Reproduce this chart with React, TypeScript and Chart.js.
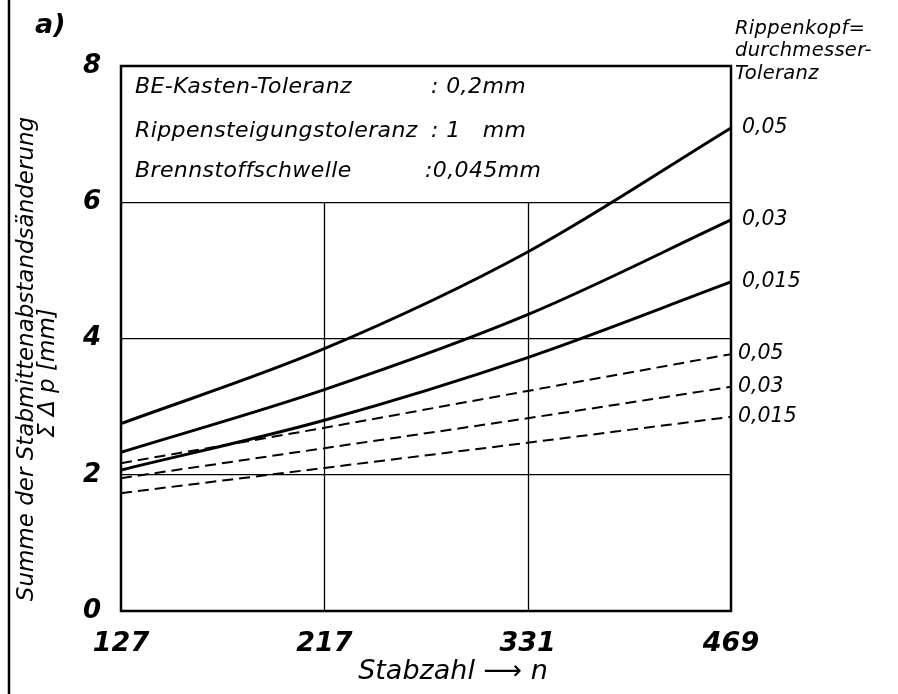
import React, { useEffect, useRef } from "react";
import { Chart, registerables } from "chart.js";

Chart.register(...registerables);

// ---- data ----
const categories = ["127", "217", "331", "469"];
const yTicks = [0, 2, 4, 6, 8];

const solid005 = [2.75, 3.85, 5.27, 7.09];
const solid003 = [2.33, 3.25, 4.35, 5.74];
const solid0015 = [2.07, 2.8, 3.72, 4.83];
const dashed005 = [2.17, 2.69, 3.23, 3.77];
const dashed003 = [1.95, 2.39, 2.83, 3.29];
const dashed0015 = [1.73, 2.1, 2.47, 2.85];

const seriesLabels = ["0,05", "0,03", "0,015", "0,05", "0,03", "0,015"];
const seriesDashed = [false, false, false, true, true, true];
const seriesValues = [solid005, solid003, solid0015, dashed005, dashed003, dashed0015];

const boxLabels = ["BE-Kasten-Toleranz", "Rippensteigungstoleranz", "Brennstoffschwelle"];
const boxValues = [": 0,2mm", ": 1   mm", ":0,045mm"];
const headerLines = ["Rippenkopf=", "durchmesser-", "Toleranz"];
const yTitleLines = ["Summe der Stabmittenabstandsänderung", "Σ Δ p [mm]"];
const xTitle = "Stabzahl \u27F6 n";
const panelLabel = "a)";
const boxFromValue = 6;

const FONT = "'DejaVu Sans', 'Noto Sans', sans-serif";

const annotPlugin = {
  id: "annot",
  beforeDatasetsDraw(chart: any) {
    const { ctx, chartArea, scales } = chart;
    const x = scales.x;
    const y = scales.y;
    ctx.save();
    ctx.strokeStyle = "#000";
    ctx.lineWidth = 1.3;
    const yTop = y.getPixelForValue(boxFromValue);
    for (let i = 1; i < categories.length - 1; i++) {
      const px = Math.round(x.getPixelForValue(i)) + 0.5;
      ctx.beginPath();
      ctx.moveTo(px, yTop);
      ctx.lineTo(px, chartArea.bottom);
      ctx.stroke();
    }
    ctx.restore();
  },
  afterDraw(chart: any) {
    const { ctx, chartArea } = chart;
    ctx.save();
    ctx.fillStyle = "#000";
    ctx.strokeStyle = "#000";

    // frame
    ctx.lineWidth = 2.5;
    ctx.strokeRect(chartArea.left, chartArea.top, chartArea.right - chartArea.left, chartArea.bottom - chartArea.top);

    // scan border at left
    ctx.lineWidth = 2.5;
    ctx.beginPath();
    ctx.moveTo(9, 0);
    ctx.lineTo(9, chart.height);
    ctx.stroke();

    // panel label
    ctx.font = `italic bold 27px ${FONT}`;
    ctx.textAlign = "left";
    ctx.textBaseline = "alphabetic";
    ctx.fillText(panelLabel, 35, 33);

    // box text
    ctx.font = `italic 22px ${FONT}`;
    (ctx as any).letterSpacing = "0.4px";
    const boxBase = [93, 137, 177];
    const valX = [431, 431, 425];
    boxLabels.forEach((t, i) => {
      ctx.fillText(t, chartArea.left + 14, boxBase[i]);
      ctx.fillText(boxValues[i], valX[i], boxBase[i]);
    });

    // header on right
    ctx.font = `italic 19.5px ${FONT}`;
    (ctx as any).letterSpacing = "0.3px";
    const hdrBase = [34, 56, 79];
    headerLines.forEach((t, i) => ctx.fillText(t, chartArea.right + 4, hdrBase[i]));
    (ctx as any).letterSpacing = "0px";

    // series end labels
    ctx.font = `italic 20.5px ${FONT}`;
    ctx.textBaseline = "middle";
    chart.data.datasets.forEach((ds: any, i: number) => {
      const meta = chart.getDatasetMeta(i);
      const last = meta.data[meta.data.length - 1];
      const lx = chartArea.right + (seriesDashed[i] ? 7 : 11);
      ctx.fillText(seriesLabels[i], lx, last.y);
    });

    // y title
    ctx.font = `italic 23px ${FONT}`;
    ctx.textAlign = "center";
    ctx.save();
    ctx.translate(27, 359);
    ctx.rotate(-Math.PI / 2);
    ctx.fillText(yTitleLines[0], 0, 0);
    ctx.restore();
    ctx.save();
    ctx.translate(48, 373);
    ctx.rotate(-Math.PI / 2);
    ctx.fillText(yTitleLines[1], 0, 0);
    ctx.restore();

    // x title
    ctx.font = `italic 27px ${FONT}`;
    ctx.fillText(xTitle, 453, 672);

    ctx.restore();
  },
};

export default function App() {
  const ref = useRef<HTMLCanvasElement | null>(null);
  useEffect(() => {
    if (!ref.current) return;
    const chart = new Chart(ref.current, {
      type: "line",
      data: {
        labels: categories,
        datasets: seriesValues.map((vals, i) => ({
          label: seriesLabels[i],
          data: vals,
          borderColor: "#000",
          borderWidth: seriesDashed[i] ? 2 : 3,
          borderDash: seriesDashed[i] ? [11, 6] : [],
          pointRadius: 0,
          fill: false,
          cubicInterpolationMode: "monotone" as const,
        })),
      },
      options: {
        animation: false,
        responsive: false,
        devicePixelRatio: 1,
        layout: { padding: { left: 0, right: 167, top: 66, bottom: 0 } },
        plugins: { legend: { display: false }, tooltip: { enabled: false } },
        scales: {
          x: {
            type: "category",
            offset: false,
            grid: { display: false, drawTicks: false },
            border: { display: false },
            ticks: {
              color: "#000",
              padding: 17,
              maxRotation: 0,
              font: { family: FONT, size: 27, style: "italic", weight: "bold" },
            },
            afterFit: (s: any) => {
              s.height = 83;
            },
          },
          y: {
            min: 0,
            max: 8,
            afterBuildTicks: (s: any) => {
              s.ticks = yTicks.map((v) => ({ value: v }));
            },
            grid: { color: "#000", lineWidth: 1.3, drawTicks: false },
            border: { display: false },
            ticks: {
              color: "#000",
              padding: 20,
              font: { family: FONT, size: 26, style: "italic", weight: "bold" },
            },
            afterFit: (s: any) => {
              s.width = 121;
            },
          },
        },
      },
      plugins: [annotPlugin],
    });
    return () => chart.destroy();
  }, []);
  return (
    <div style={{ position: "fixed", left: 0, top: 0, width: 898, height: 694, background: "#fff" }}>
      <canvas ref={ref} width={898} height={694} style={{ width: 898, height: 694, display: "block" }} />
    </div>
  );
}
